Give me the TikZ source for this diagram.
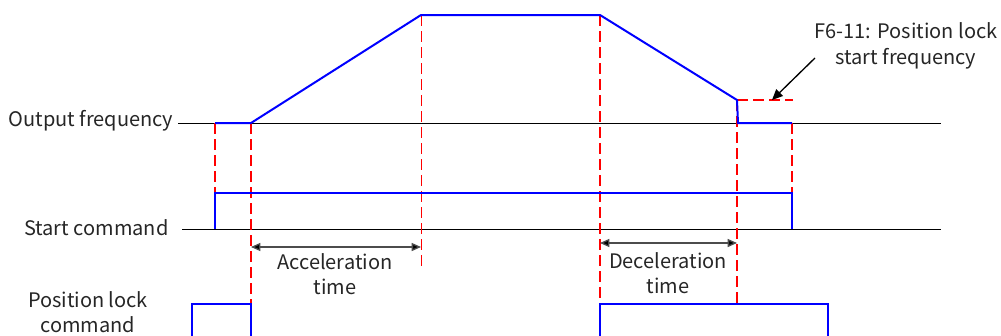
\documentclass[tikz,border=0pt]{standalone}
\usepackage{fontspec}
\setmainfont{Noto Sans CJK SC}
\usetikzlibrary{arrows.meta}
\tikzset{
  sig/.style={blue, line width=1.5pt},
  guide/.style={red, line width=1.3pt, dash pattern=on 8pt off 4pt},
  axis/.style={black, line width=0.75pt},
  dim/.style={black!70, line width=1pt, {Triangle[length=7pt,width=6pt,fill=black]}-{Triangle[length=7pt,width=6pt,fill=black]}},
  pointer/.style={black, line width=1pt, -{Triangle[length=8pt,width=7pt]}},
  lbl/.style={font=\fontsize{15}{19}\selectfont, text=black!85, inner sep=1pt}
}
\begin{document}
\begin{tikzpicture}[x=0.75pt,y=-0.75pt]
  \useasboundingbox (0,0) rectangle (1001,336);
  % time axes
  \draw[axis] (178,123) -- (941,123);
  \draw[axis] (182,229) -- (941,229);
  \node[lbl, anchor=east] (outf) at (175,121) {Output frequency};
  \node[lbl, anchor=east] (startc) at (170,228) {Start command};
  \node[lbl, align=center] (lockc) at (88,312) {Position lock\\command};
  % red guides
  \foreach \x/\a/\b in {215/123/193, 251/123/304, 600/15/304, 737/100/304, 792/123/193}
    \draw[guide] (\x,\a) -- (\x,\b);
  \draw[guide, line width=0.7pt] (421,15) -- (421,270);
  \draw[guide] (737,100) -- (793,100);
  % signals
  \draw[sig] (215,123) -- (251,123) -- (421,15) -- (600,15) -- (737,100) -- (738,123) -- (792,123);
  \draw[sig] (215,229) -- (215,193) -- (792,193) -- (792,229);
  \draw[sig] (192,337) -- (192,304) -- (251,304) -- (251,337);
  \draw[sig] (600,337) -- (600,304) -- (828,304) -- (828,337);
  % times
  \coordinate (acc0) at (251,247);
  \coordinate (acc1) at (421,247);
  \draw[dim] (acc0) -- (acc1);
  \node[lbl, align=center] (acct) at (335,274) {Acceleration\\time};
  \coordinate (dec0) at (600,243);
  \coordinate (dec1) at (737,243);
  \draw[dim] (dec0) -- (dec1);
  \node[lbl, align=center] (dect) at (668,273) {Deceleration\\time};
  % lock frequency
  \node[lbl, align=center] (lockf) at (906,46) {F6-11: Position lock\\start frequency};
  \coordinate (lockfrom) at (815,58);
  \coordinate (lockpt) at (772,100);
  \draw[pointer] (lockfrom) -- (lockpt);
\end{tikzpicture}
\end{document}
